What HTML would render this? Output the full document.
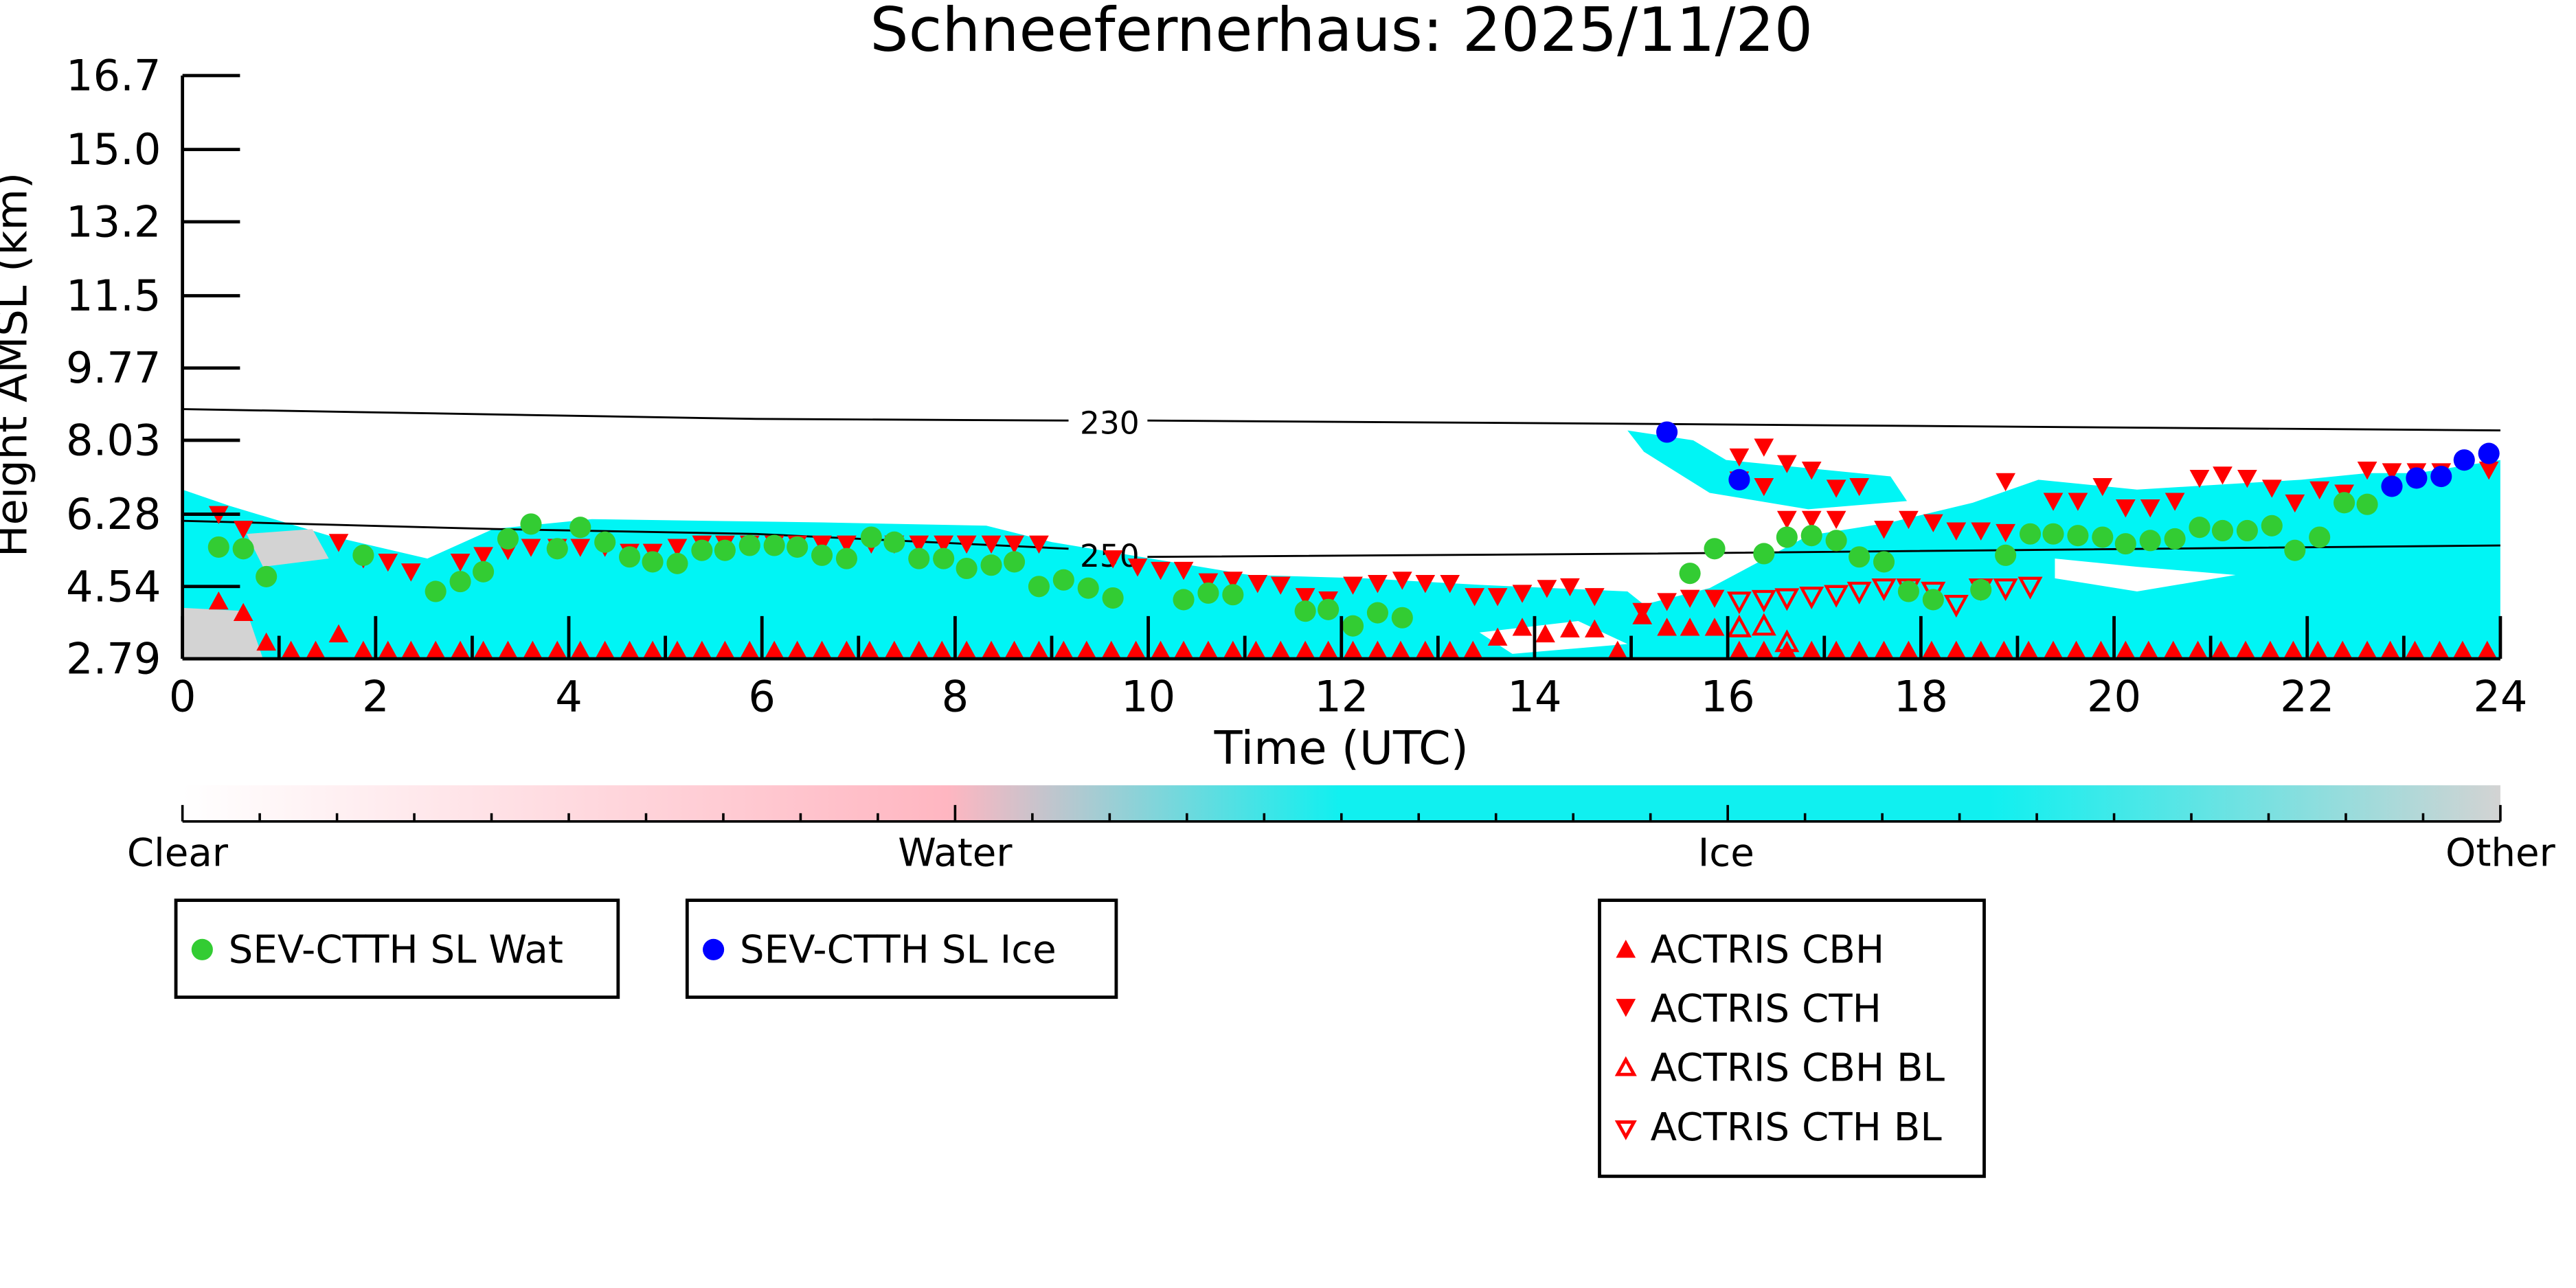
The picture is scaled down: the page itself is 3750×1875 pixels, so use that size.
<!DOCTYPE html>
<html><head><meta charset="utf-8"><style>
html,body{margin:0;padding:0;background:#fff;}
svg{display:block;font-family:"DejaVu Sans","Liberation Sans",sans-serif;}
</style></head><body>
<svg id="s" width="3750" height="1875" viewBox="0 0 1567 784" preserveAspectRatio="none" xmlns="http://www.w3.org/2000/svg">
<defs>
<linearGradient id="cb" x1="0" x2="1" y1="0" y2="0">
<stop offset="0" stop-color="#ffffff"/>
<stop offset="0.33" stop-color="#ffb6c1"/>
<stop offset="0.5" stop-color="#10f0f0"/>
<stop offset="0.78" stop-color="#10f0f0"/>
<stop offset="1" stop-color="#d3d3d3"/>
</linearGradient>
<clipPath id="pc"><rect x="111" y="46" width="1410" height="355"/></clipPath>
</defs>
<text x="816" y="31" font-size="37" text-anchor="middle">Schneefernerhaus: 2025/11/20</text>
<g clip-path="url(#pc)">
<polygon fill="#00f5f5" points="111,401 111,298 140,308 200,326 260,340 300,322 360,316 500,318 600,320 640,330 700,340 760,350 830,352 900,356 990,360 1000,368 1040,358 1100,326 1150,318 1200,306 1240,292 1300,298 1400,292 1440,288 1470,288 1521,280 1521,401"/>
<polygon fill="#d3d3d3" points="111,401 111,370 150,372 160,401"/>
<polygon fill="#d3d3d3" points="150,325 190,322 200,340 160,345"/>
<polygon fill="#ffffff" points="1250,340 1300,345 1360,350 1300,360 1250,352"/>
<polygon fill="#ffffff" points="900,385 960,378 990,392 920,398"/>
<polygon fill="#00f5f5" points="990,262 1030,268 1050,280 1150,290 1160,305 1100,310 1040,300 1000,275"/>
</g>
<polyline fill="none" stroke="#000" stroke-width="1.2" points="111,249 460,255 650,256"/>
<polyline fill="none" stroke="#000" stroke-width="1.2" points="698,256 1000,258 1521,262"/>
<text x="675" y="264" font-size="19" text-anchor="middle">230</text>
<polyline fill="none" stroke="#000" stroke-width="1.2" points="111,317 300,322 460,325 650,334"/>
<polyline fill="none" stroke="#000" stroke-width="1.2" points="698,339 1000,337 1521,332"/>
<text x="675" y="345" font-size="19" text-anchor="middle">250</text>
<g id="mk"></g>
<g stroke="#000" stroke-width="2" fill="none">
<line x1="111" y1="46" x2="111" y2="401"/>
<line x1="111" y1="401" x2="1521" y2="401"/>
</g>
<g id="ax" font-size="26"></g>
<text x="816" y="465" font-size="28" text-anchor="middle">Time (UTC)</text>
<text transform="translate(16,222) rotate(-90)" font-size="26" text-anchor="middle">Height AMSL (km)</text>
<rect x="111" y="478" width="1410" height="22" fill="url(#cb)"/>
<line x1="111" y1="500" x2="1521" y2="500" stroke="#000" stroke-width="1.5"/>
<g id="cbt"></g>
<g font-size="23.5" text-anchor="middle">
<text x="108" y="527">Clear</text><text x="581" y="527">Water</text><text x="1050" y="527">Ice</text><text x="1521" y="527">Other</text>
</g>
<g font-size="23.5" stroke-width="2">
<rect x="107" y="548" width="269" height="59" fill="#fff" stroke="#000"/>
<circle cx="123" cy="578" r="6.5" fill="#33cc33"/><text x="139" y="586">SEV-CTTH SL Wat</text>
<rect x="418" y="548" width="261" height="59" fill="#fff" stroke="#000"/>
<circle cx="434" cy="578" r="6.5" fill="#0000ff"/><text x="450" y="586">SEV-CTTH SL Ice</text>
<rect x="973" y="548" width="234" height="168" fill="#fff" stroke="#000"/>
<polygon points="983,583 995,583 989,572" fill="#ff0000"/><text x="1004" y="586">ACTRIS CBH</text>
<polygon points="983,608 995,608 989,619" fill="#ff0000"/><text x="1004" y="622">ACTRIS CTH</text>
<polygon points="984,654 994,654 989,645" fill="none" stroke="#ff0000"/><text x="1004" y="658">ACTRIS CBH BL</text>
<polygon points="984,683 994,683 989,692" fill="none" stroke="#ff0000"/><text x="1004" y="694">ACTRIS CTH BL</text>
</g>
</svg>
<script>
var NS="http://www.w3.org/2000/svg";
function el(p,t,a,tx){var e=document.createElementNS(NS,t);for(var k in a)e.setAttribute(k,a[k]);if(tx!==undefined)e.textContent=tx;p.appendChild(e);return e;}
var ax=document.getElementById('ax'),mk=document.getElementById('mk'),cbt=document.getElementById('cbt');
var yl=[["16.7",46],["15.0",91],["13.2",135],["11.5",180],["9.77",224],["8.03",268],["6.28",313],["4.54",357],["2.79",401]];
yl.forEach(function(v){el(ax,'line',{x1:111,y1:v[1],x2:146,y2:v[1],stroke:'#000','stroke-width':2});el(ax,'text',{x:98,y:v[1]+9,'text-anchor':'end'},v[0]);});
for(var h=0;h<=24;h++){var x=111+h*58.75;var L=h%2==0?26:14;el(ax,'line',{x1:x,y1:401,x2:x,y2:401-L,stroke:'#000','stroke-width':2});if(h%2==0)el(ax,'text',{x:x,y:433,'text-anchor':'middle'},String(h));}
for(var i=0;i<=30;i++){var x=111+i*1410/30;var L=(i%10==0)?10:5;el(cbt,'line',{x1:x,y1:500,x2:x,y2:500-L,stroke:'#000','stroke-width':1.5});}
function up(x,y,f){el(mk,'polygon',{points:(x-6)+','+(y+5)+' '+(x+6)+','+(y+5)+' '+x+','+(y-6),fill:f?'#ff0000':'none',stroke:'#ff0000','stroke-width':f?0:1.8});}
function dn(x,y,f){el(mk,'polygon',{points:(x-6)+','+(y-5)+' '+(x+6)+','+(y-5)+' '+x+','+(y+6),fill:f?'#ff0000':'none',stroke:'#ff0000','stroke-width':f?0:1.8});}
var elev={133:366,148:373,162:391,206:386,911:388,926:382,941:386,955:383,970:383,999:375,1014:382,1028:382,1043:382};
for(var x=133;x<=1515;x+=14.68){var xr=Math.round(x);var y=396;for(var k in elev){if(Math.abs(k-xr)<4)y=elev[k];}up(xr,y,true);}
var cth=[[133,313],[148,322],[206,330],[221,340],[236,342],[250,348],[280,342],[294,338],[309,335],[323,333],[339,333],[353,333],[368,333],[383,336],[397,336],[412,333],[427,331],[441,331],[456,331],[471,331],[485,331],[500,331],[515,331],[530,331],[544,331],[559,331],[574,331],[588,331],[603,331],[617,331],[632,331],[677,340],[692,345],[706,347],[720,347],[735,354],[750,353],[765,355],[779,356],[794,363],[808,365],[823,356],[838,355],[853,353],[867,355],[882,355],[897,363],[911,363],[926,361],[941,358],[955,357],[970,363],[999,372],[1014,366],[1028,364],[1043,364],[1058,278],[1073,272],[1087,282],[1102,286],[1117,297],[1131,296],[1146,322],[1161,316],[1176,318],[1190,323],[1205,323],[1220,324],[1220,293],[1249,305],[1264,305],[1279,296],[1293,309],[1308,309],[1323,305],[1338,291],[1352,289],[1367,291],[1382,297],[1396,306],[1411,298],[1426,300],[1440,286],[1455,287],[1470,287],[1485,287],[1514,286],[1058,292],[1073,296],[1087,316],[1102,316],[1117,316]];
cth.forEach(function(p){dn(p[0],p[1],true);});
[[1058,382],[1073,381],[1087,391]].forEach(function(p){up(p[0],p[1],false);});
[[1058,366],[1073,365],[1087,364],[1102,363],[1117,362],[1131,360],[1146,358],[1161,358],[1176,360],[1190,368],[1205,358],[1220,358],[1235,357]].forEach(function(p){dn(p[0],p[1],false);});
var g=[[133,333],[148,334],[162,351],[221,338],[265,360],[280,354],[294,348],[309,328],[323,319],[339,334],[353,321],[368,330],[383,339],[397,342],[412,343],[427,335],[441,335],[456,332],[471,332],[485,333],[500,338],[515,340],[530,327],[544,330],[559,340],[574,340],[588,346],[603,344],[617,342],[632,357],[647,353],[662,358],[677,364],[720,365],[735,361],[750,362],[794,372],[808,371],[823,381],[838,373],[853,376],[1028,349],[1043,334],[1073,337],[1087,327],[1102,326],[1117,329],[1131,339],[1146,342],[1161,360],[1176,365],[1205,359],[1220,338],[1235,325],[1249,325],[1264,326],[1279,327],[1293,331],[1308,329],[1323,328],[1338,321],[1352,323],[1367,323],[1382,320],[1396,335],[1411,327],[1426,306],[1440,307]];
g.forEach(function(p){el(mk,'circle',{cx:p[0],cy:p[1],r:6.5,fill:'#33cc33'});});
[[1014,263],[1058,292],[1455,296],[1470,291],[1485,290],[1499,280],[1514,276]].forEach(function(p){el(mk,'circle',{cx:p[0],cy:p[1],r:6.5,fill:'#0000ff'});});
</script>
</body></html>
